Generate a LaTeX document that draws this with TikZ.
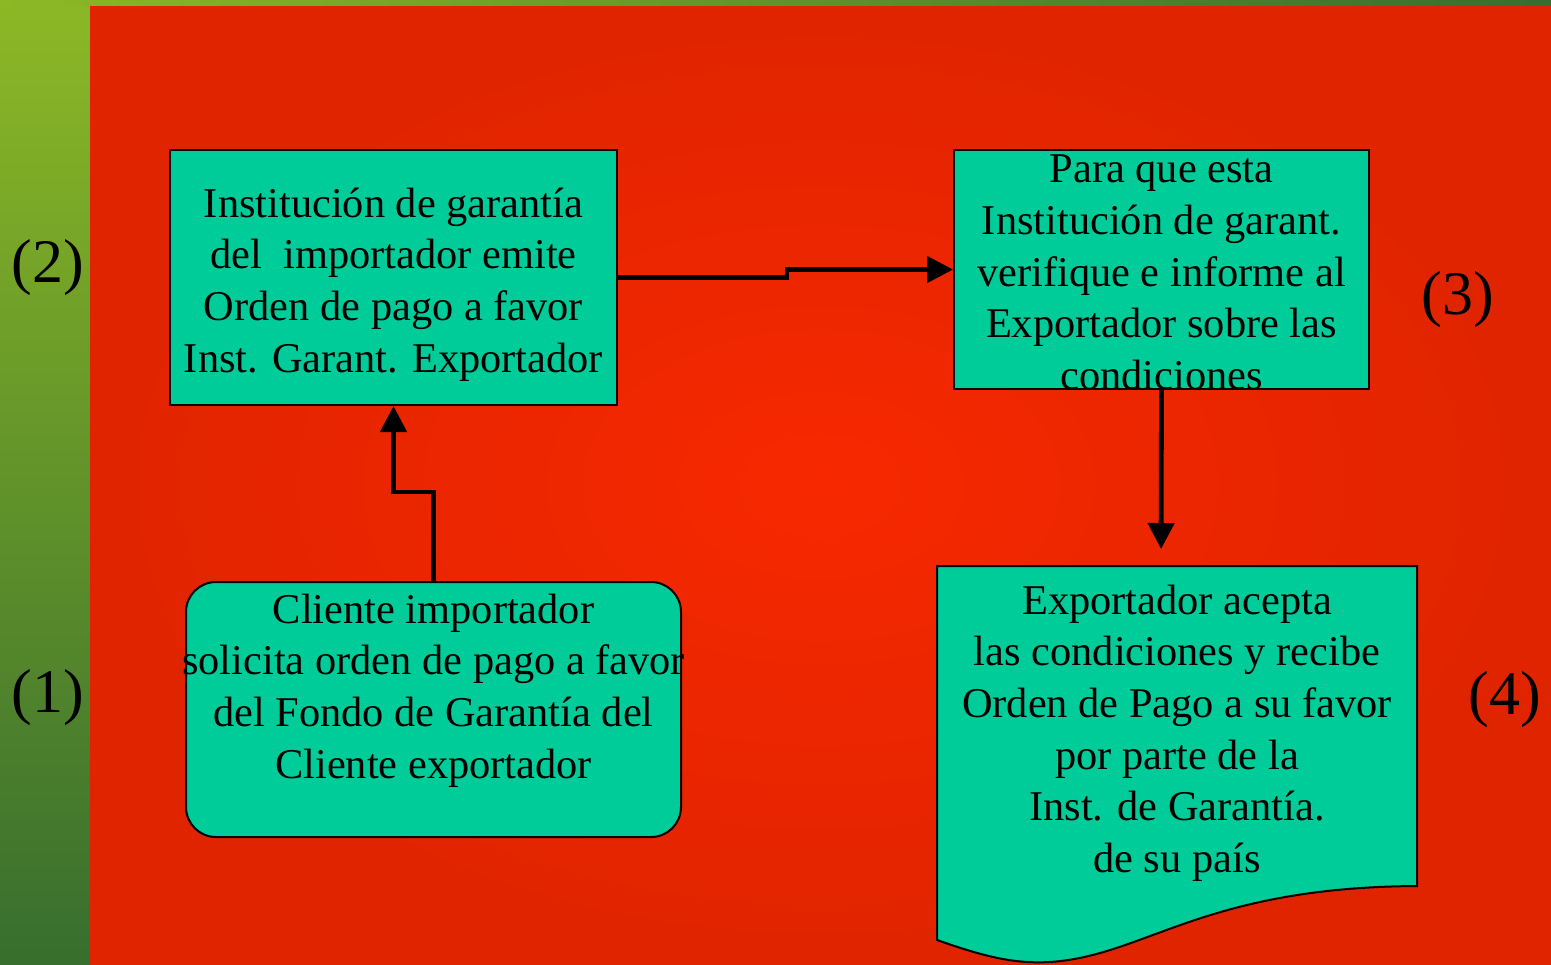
\documentclass[tikz,border=0pt]{standalone}
\usepackage{fontspec}
\setmainfont{Liberation Serif}
\usepackage{tikz}
\usetikzlibrary{arrows.meta, positioning}
\definecolor{boxgreen}{RGB}{0,204,153}
\definecolor{redhi}{RGB}{247,40,0}
\definecolor{redlo}{RGB}{224,36,0}
\definecolor{greenhi}{RGB}{140,184,38}
\definecolor{greenlo}{RGB}{56,110,46}
\newcommand{\boxfont}{\fontsize{21.2}{25.8}\selectfont}
\newcommand{\stepfont}{\fontsize{31}{36}\selectfont}
\tikzset{
  procbox/.style={
    align=center,
    draw=black,
    fill=boxgreen,
    line width=1pt,
    inner sep=0pt,
    font=\boxfont
  },
  roundbox/.style={
    procbox,
    rounded corners=15pt
  },
  docshape/.style={
    draw=black,
    fill=boxgreen,
    line width=1pt
  },
  boxtext/.style={
    align=center,
    inner sep=0pt,
    font=\boxfont
  },
  steplabel/.style={
    inner sep=0pt,
    font=\stepfont
  },
  arrow/.style={draw,line width=2.4pt,-{Triangle[length=13pt,width=13pt]}}
}
\begin{document}
\begin{tikzpicture}[x=0.5pt, y=-0.5pt]
    \useasboundingbox (0,0) rectangle (1551,964);
    % background
    \shade [top color=greenhi, bottom color=greenlo] (0,0) rectangle (90,964);
    \shade [left color=greenhi, right color=greenlo] (0,0) rectangle (1551,6);
    \shade [inner color=redhi, outer color=redlo] (90,6) rectangle (1551,964);
    % boxes
    \node (order) [procbox, minimum width=223.5pt, minimum height=127.5pt] at (393.5,277.5) {};
    \node (ordertext) [boxtext] at ([yshift=-3.5pt]order.center)
      {Institución de garantía \\ del\ \ importador emite \\
       Orden de pago a favor \\ Inst. Garant. Exportador};
    \node (verify) [procbox, minimum width=207.5pt, minimum height=119.5pt] at (1161.5,269.5) {};
    \node (verifytext) [boxtext] at ([yshift=-1.5pt]verify.center)
      {Para que esta \\ Institución de garant. \\ verifique e informe al \\
       Exportador sobre las \\ condiciones};
    \node (request) [roundbox, minimum width=247.5pt, minimum height=127.5pt] at (433.5,709.5) {};
    \node (requesttext) [boxtext] at ([yshift=9.5pt]request.center)
      {Cliente importador \\ solicita orden de pago a favor \\
       del Fondo de Garantía del \\ Cliente exportador};
    \path [docshape] (937,566) -- (1417,566) -- (1417,886)
      .. controls (1250,887) and (1180,928) .. (1110,950)
      .. controls (1040,972) and (1000,962) .. (937,940) -- cycle;
    \coordinate (accepttop) at (1161,566);
    \node (accept) [boxtext] at (1177,733)
      {Exportador acepta \\ las condiciones y recibe \\ Orden de Pago a su favor \\
       por parte de la \\ Inst. de Garantía. \\ de su país};
    % step numbers
    \node (stepone) [steplabel] at (48,698) {(1)};
    \node (steptwo) [steplabel] at (48,268) {(2)};
    \node (stepthree) [steplabel] at (1458,300) {(3)};
    \node (stepfour) [steplabel] at (1505,700) {(4)};
    % connectors
    \draw [arrow] (request.north) -- ++(0,-89) -| (order.south);
    \draw [arrow] (order.east) -- ++(169,0) |- (verify.west);
    \draw [arrow, shorten >=8.5pt] (verify.south) -- (accepttop);
  \end{tikzpicture}
\end{document}
